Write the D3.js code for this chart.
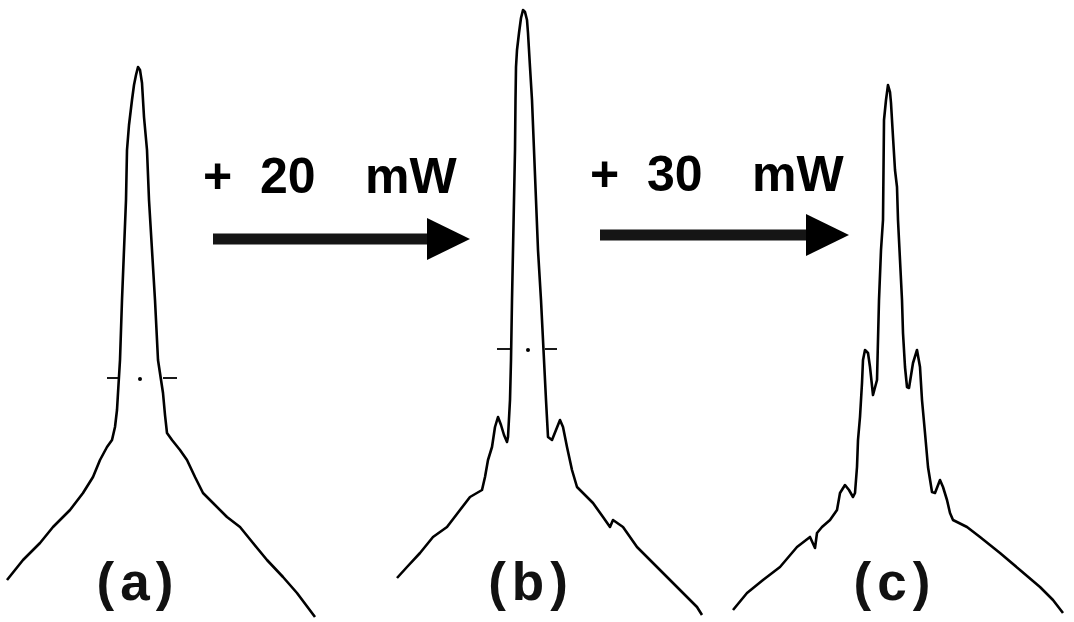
<!DOCTYPE html>
<html>
<head>
<meta charset="utf-8">
<script src="https://cdn.jsdelivr.net/npm/d3@7"></script>
<style>
    html, body { margin: 0; padding: 0; background: #ffffff; }
    #chart { width: 1074px; height: 622px; }
</style>
</head>
<body>
<div id="chart"></div>
<script>
// Spectra: offset from line centre (kHz) and level (dB)
const freqA = [-65.5, -57.5, -49, -42.5, -34, -27.5, -22.5, -19, -15.5, -13, -11.5, -10.5, -10, -9, -8, -7, -6, -5.5, -4.5, -3, -2, -1, 0,
    1, 2, 2.5, 3, 4.5, 5.5, 7, 8.5, 10, 12.5, 13.5, 14.5, 17, 21, 24.5, 28.5, 32.5, 37.5, 44.5, 51, 57.5, 64.5, 72.5, 79.5, 88.5];
const levelA = [-57.5, -55.5, -53.8, -52.2, -50.5, -48.8, -47.2, -45.5, -44.2, -43.5, -42.2, -40.5, -38.8, -35.5, -29.5, -24.5, -19.5, -14.5, -12, -9.5, -8, -7, -6.2,
    -6.5, -7.8, -9.5, -11.2, -14.5, -19.5, -24.5, -29.5, -35.5, -38.8, -41, -42.8, -43.5, -44.5, -45.5, -47.2, -48.8, -49.8, -51.2, -52.2, -53.8, -55.5, -57.2, -58.8, -61.2];

const freqB = [-63, -58, -51.5, -45, -38, -31.5, -26.5, -20.5, -19, -17.5, -15.5, -14, -12.5, -11, -9.5, -8, -7.5, -6.5, -6, -5.5, -5, -4.5, -4, -3.75, -3.5, -3, -2, -1, 0,
    1, 2, 2.5, 3.5, 4.5, 5.5, 6.5, 7.5, 9, 10.5, 11.5, 12.5, 14.5, 16.5, 18.5, 20, 22, 24.5, 27, 30, 35, 40, 43.5, 45, 50, 57, 62, 70, 78.5, 87, 89.5];
const levelB = [-57.3, -56.2, -54.8, -53.2, -52.2, -50.5, -49.2, -48.5, -47.2, -45.5, -44.2, -42.2, -41.2, -42, -43, -43.7, -43.2, -39.5, -35.5, -29.5, -24.5, -19.5, -14.5, -9.5, -6.2, -4.5, -2.8, -1.3, -0.5,
    -0.7, -1.5, -2.8, -6.2, -9.5, -14.5, -19.5, -24.5, -29.5, -35.5, -39.5, -43.2, -43.5, -42.5, -41.5, -42.2, -44.2, -46.5, -48.2, -48.8, -49.8, -51.2, -52.2, -51.5, -52.2, -54.2, -55.2, -56.8, -58.5, -60.2, -61];

const freqC = [-77.5, -70.5, -62.5, -54, -45.5, -39, -36.5, -35.5, -33, -29, -25.5, -24, -21.5, -19.5, -17.5, -16.5, -15.5, -15, -14, -13, -12.5, -11.5, -10, -9, -7.5, -5.5, -4.5, -3.5, -2.5, -2.25, -2, -1, 0,
    1, 1.5, 2.5, 3.5, 4.5, 5, 6, 7, 7.5, 8.5, 9.5, 10.5, 12.5, 14.5, 16, 17, 18.5, 20, 22, 23.5, 26, 27.5, 29.5, 31, 32.5, 39.5, 46, 56, 66, 76, 82.5, 87.5];
const levelC = [-60.5, -58.8, -57.5, -56.2, -54.2, -53.2, -54.3, -52.8, -52.2, -51.5, -50.5, -48.8, -48, -48.5, -49.2, -48.8, -46.2, -43.5, -41.2, -37.8, -35.5, -34.5, -34.8, -36.2, -39, -37.5, -29.5, -24.5, -21.5, -16.5, -11.5, -9.5, -8,
    -8.7, -9.8, -13.2, -16.5, -18.2, -21.5, -25.5, -29.5, -32.8, -36.2, -38.2, -38.3, -35.8, -34.5, -36.2, -39.5, -42.8, -46.2, -48.7, -48.8, -47.5, -48.2, -49.5, -50.8, -51.5, -52.2, -53.2, -54.8, -56.5, -58.2, -59.5, -60.8];

// Panel labels and the analyser's width markers (level, left tick, right tick, dot)
const panelLabels = ['(a)', '(b)', '(c)'];
const labelOffsets = [0, 4, 3.5];
const markerLevels = [-37.3, -34.4, null];
const markerLeft = [[-15.5, -10], [-13, -5.5], null];
const markerRight = [[12.5, 19.5], [11, 17], null];
const markerDot = [1, 2.5, null];

// Pump power steps shown between the panels
const powerSteps = ['+ 20 mW', '+ 30 mW'];

class SpectraFigure {
    constructor(selector) {
        this.container = d3.select(selector);
        this.width = 1074;
        this.height = 622;
        this.centers = [138, 523, 888];

        this.svg = this.container.append('svg')
            .attr('width', this.width)
            .attr('height', this.height);

        // shared level scale, one frequency scale per panel
        this.yScale = d3.scaleLinear().domain([-60, 0]).range([605, 5]);
        this.xScales = this.centers.map(c => d3.scaleLinear().domain([-100, 100]).range([c - 200, c + 200]));

        this.draw();
    }

    draw() {
        const traces = [
            d3.zip(freqA, levelA),
            d3.zip(freqB, levelB),
            d3.zip(freqC, levelC)
        ];

        traces.forEach((pts, i) => this.drawPanel(pts, i));

        this.drawArrow(powerSteps[0], 213, 470, 239, 193);
        this.drawArrow(powerSteps[1], 600, 849, 235, 191);
    }

    drawPanel(pts, i) {
        const x = this.xScales[i];
        const y = this.yScale;
        const g = this.svg.append('g').attr('class', 'panel');

        const line = d3.line()
            .x(d => x(d[0]))
            .y(d => y(d[1]));

        g.append('path')
            .datum(pts)
            .attr('d', line)
            .attr('fill', 'none')
            .attr('stroke', '#000')
            .attr('stroke-width', 2.6)
            .attr('stroke-linejoin', 'round');

        // width marker
        if (markerLevels[i] !== null) {
            const my = y(markerLevels[i]);
            [markerLeft[i], markerRight[i]].forEach(seg => {
                g.append('line')
                    .attr('x1', x(seg[0])).attr('x2', x(seg[1]))
                    .attr('y1', my).attr('y2', my)
                    .attr('stroke', '#000')
                    .attr('stroke-width', 1.8);
            });
            g.append('circle')
                .attr('cx', x(markerDot[i]))
                .attr('cy', my + 1)
                .attr('r', 2)
                .attr('fill', '#000');
        }

        g.append('text')
            .attr('x', x(labelOffsets[i]))
            .attr('y', 600)
            .attr('text-anchor', 'middle')
            .style('font-family', '"Liberation Sans", Arial, sans-serif')
            .style('font-weight', 'bold')
            .style('font-size', '53px')
            .style('letter-spacing', '6px')
            .attr('fill', '#111')
            .text(panelLabels[i]);
    }

    drawArrow(label, x0, x1, yMid, baseline) {
        const g = this.svg.append('g').attr('class', 'arrow');
        const headLen = 43;
        const headHalf = 21;

        g.append('rect')
            .attr('x', x0)
            .attr('y', yMid - 5.5)
            .attr('width', x1 - headLen - x0 + 2)
            .attr('height', 11)
            .attr('fill', '#151515');

        g.append('path')
            .attr('d', `M${x1 - headLen},${yMid - headHalf} L${x1},${yMid} L${x1 - headLen},${yMid + headHalf} Z`)
            .attr('fill', '#000');

        // the gaps in the figure are wider than a normal space, so place the words
        const parts = label.split(' ');
        const starts = [x0 - 10, x0 + 47, x0 + 152];
        const t = g.append('text')
            .attr('y', baseline)
            .style('font-family', '"Liberation Sans", Arial, sans-serif')
            .style('font-weight', 'bold')
            .style('font-size', '50px')
            .attr('fill', '#000');
        parts.forEach((p, k) => {
            t.append('tspan').attr('x', starts[k]).text(p);
        });
    }
}

new SpectraFigure('#chart');
</script>
</body>
</html>
